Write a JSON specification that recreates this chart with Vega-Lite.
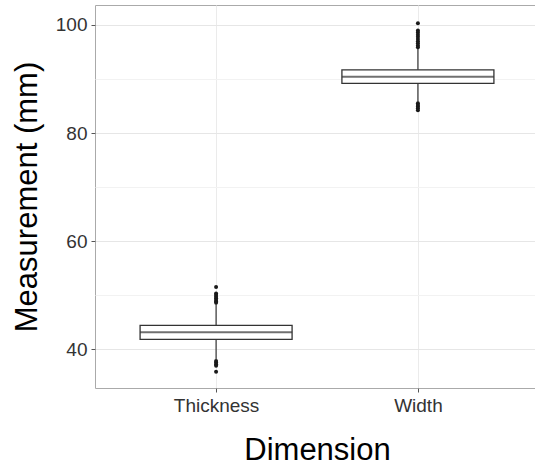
{
  "$schema": "https://vega.github.io/schema/vega-lite/v6.json",
  "width": 444,
  "height": 383,
  "autosize": {"type": "none"},
  "padding": {"left": 95, "top": 5, "right": 0, "bottom": 80},
  "background": "white",
  "config": {
    "font": "Liberation Sans",
    "view": {"stroke": "#aaaaaa", "strokeWidth": 1}
  },
  "datasets": {
    "boxes": [
      {"Dimension": "Thickness", "lower": 38.1, "q1": 41.8, "median": 43.1, "q3": 44.4, "upper": 48.3},
      {"Dimension": "Width", "lower": 85.8, "q1": 89.2, "median": 90.4, "q3": 91.7, "upper": 95.6}
    ],
    "outliers": [
      {"Dimension": "Thickness", "value": 51.5},
      {"Dimension": "Thickness", "value": 50.3},
      {"Dimension": "Thickness", "value": 50.0},
      {"Dimension": "Thickness", "value": 49.7},
      {"Dimension": "Thickness", "value": 49.4},
      {"Dimension": "Thickness", "value": 49.1},
      {"Dimension": "Thickness", "value": 48.8},
      {"Dimension": "Thickness", "value": 48.6},
      {"Dimension": "Thickness", "value": 37.8},
      {"Dimension": "Thickness", "value": 37.5},
      {"Dimension": "Thickness", "value": 37.2},
      {"Dimension": "Thickness", "value": 36.9},
      {"Dimension": "Thickness", "value": 35.8},
      {"Dimension": "Width", "value": 100.3},
      {"Dimension": "Width", "value": 99.0},
      {"Dimension": "Width", "value": 98.6},
      {"Dimension": "Width", "value": 98.2},
      {"Dimension": "Width", "value": 97.8},
      {"Dimension": "Width", "value": 97.4},
      {"Dimension": "Width", "value": 97.0},
      {"Dimension": "Width", "value": 96.6},
      {"Dimension": "Width", "value": 96.2},
      {"Dimension": "Width", "value": 95.9},
      {"Dimension": "Width", "value": 85.5},
      {"Dimension": "Width", "value": 85.2},
      {"Dimension": "Width", "value": 84.9},
      {"Dimension": "Width", "value": 84.6},
      {"Dimension": "Width", "value": 84.2}
    ]
  },
  "encoding": {
    "x": {
      "field": "Dimension",
      "type": "nominal",
      "scale": {"type": "point", "padding": 0.6, "domain": ["Thickness", "Width"]},
      "axis": {
        "title": "Dimension",
        "titleFontSize": 31,
        "titleFontWeight": "normal",
        "titleColor": "#000000",
        "titlePadding": 20,
        "labelFontSize": 19,
        "labelColor": "#333333",
        "labelAngle": 0,
        "labelPadding": 4,
        "tickSize": 4,
        "tickColor": "#555555",
        "domain": false,
        "grid": true,
        "gridColor": "#ebebeb",
        "gridWidth": 1
      }
    }
  },
  "layer": [
    {
      "data": {"name": "boxes"},
      "mark": {"type": "rule", "color": "#333333", "strokeWidth": 1.2},
      "encoding": {
        "y": {
          "field": "lower",
          "type": "quantitative",
          "scale": {"domain": [32.8, 103.7], "nice": false, "zero": false},
          "axis": {
            "title": "Measurement (mm)",
            "titleFontSize": 31,
            "titleFontWeight": "normal",
            "titleColor": "#000000",
            "titlePadding": 12,
            "values": [40, 50, 60, 70, 80, 90, 100],
            "labelExpr": "datum.value % 20 == 0 ? datum.label : ''",
            "labelFontSize": 19,
            "labelColor": "#333333",
            "labelPadding": 4,
            "tickSize": 4,
            "tickColor": "#555555",
            "tickOpacity": {"condition": {"test": "datum.value % 20 == 0", "value": 1}, "value": 0},
            "domain": false,
            "grid": true,
            "gridColor": {"condition": {"test": "datum.value % 20 == 0", "value": "#e6e6e6"}, "value": "#f2f2f2"},
            "gridWidth": 1
          }
        },
        "y2": {"field": "upper"}
      }
    },
    {
      "data": {"name": "boxes"},
      "mark": {"type": "bar", "size": 152, "fill": "white", "stroke": "#333333", "strokeWidth": 1.3},
      "encoding": {
        "y": {"field": "q1", "type": "quantitative"},
        "y2": {"field": "q3"}
      }
    },
    {
      "data": {"name": "boxes"},
      "mark": {"type": "tick", "size": 152, "thickness": 2, "color": "#333333", "orient": "horizontal"},
      "encoding": {
        "y": {"field": "median", "type": "quantitative"}
      }
    },
    {
      "data": {"name": "outliers"},
      "mark": {"type": "circle", "size": 16, "color": "#1a1a1a", "opacity": 1},
      "encoding": {
        "y": {"field": "value", "type": "quantitative"}
      }
    }
  ]
}
